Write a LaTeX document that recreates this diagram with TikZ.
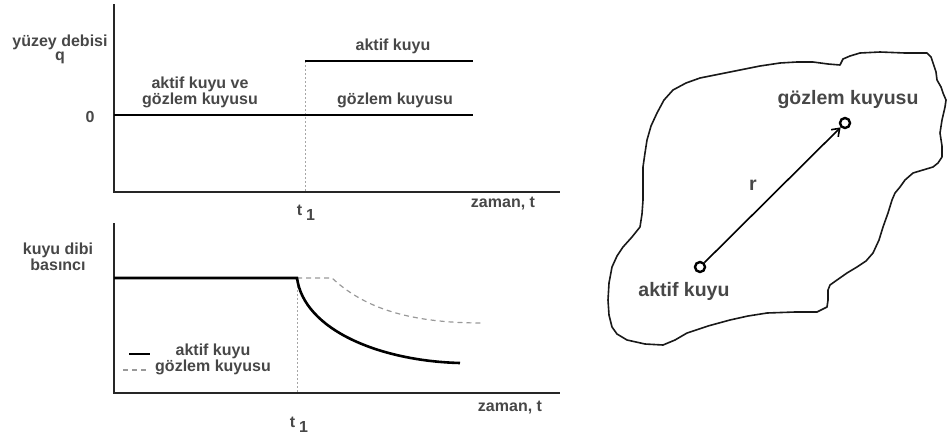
\documentclass[tikz,border=0pt]{standalone}
\usepackage{fontspec}
\setmainfont{Liberation Sans}
\usetikzlibrary{arrows.meta}
\tikzset{
  axis/.style={line width=2pt, black!85},
  solidcurve/.style={line width=2.6pt, black},
  dashcurve/.style={line width=1.2pt, black!40, dash pattern=on 5pt off 4pt},
  tdash/.style={line width=0.8pt, black!35, dash pattern=on 2pt off 2pt},
  lbl/.style={font=\fontsize{16}{17}\selectfont\bfseries, text=black!72, inner sep=0pt, align=center},
  biglbl/.style={font=\fontsize{19.5}{21}\selectfont\bfseries, text=black!72, inner sep=0pt},
  well/.style={circle, draw=black, line width=2.4pt, minimum size=10pt, inner sep=0pt},
  blob/.style={line width=1.6pt, black!90, line join=round}
}
\begin{document}
\begin{tikzpicture}[x=1pt,y=-1pt]
\useasboundingbox (0,0) rectangle (947,437);
% ---------- top plot ----------
\draw[axis] (114,4) -- (114,192) -- (560,192);
\draw[tdash] (305,61) -- (305,192);
\draw[solidcurve] (114,115) -- (473,115);
\draw[solidcurve] (305,61) -- (473,61);
\node[lbl] (ql) at (60,42) {yüzey debisi};
\node[lbl] (qq) at (60,58) {q};
\node[lbl] (z1) at (90,117) {0};
\node[lbl] (ak1) at (393,46) {aktif kuyu};
\node[lbl] (akg) at (200,92) {aktif kuyu ve\\[-1pt]gözlem kuyusu};
\node[lbl] (gk1) at (395,100) {gözlem kuyusu};
\node[lbl] (tt1) at (306,213) {t\kern4pt\raisebox{-5pt}{1}};
\node[lbl] (zt1) at (503,204) {zaman, t};
% ---------- bottom plot ----------
\draw[axis] (114,223) -- (114,393) -- (560,393);
\draw[tdash] (297,278) -- (297,393);
\draw[dashcurve] (297,278) -- (332,278) .. controls (362,306) and (405,323) .. (482,323);
\draw[solidcurve] (114,278) -- (297,278) .. controls (304,330) and (380,361) .. (460,363);
\draw[solidcurve] (129,354) -- (150,354);
\draw[dashcurve] (123,370) -- (147,370);
\node[lbl] (kd) at (58,257) {kuyu dibi\\[-1pt]basıncı};
\node[lbl] (la) at (213,351) {aktif kuyu};
\node[lbl] (lg) at (213,367) {gözlem kuyusu};
\node[lbl] (tt2) at (299,425) {t\kern4pt\raisebox{-5pt}{1}};
\node[lbl] (zt2) at (510,408) {zaman, t};
% ---------- reservoir ----------
\draw[blob] (840,65) -- (843,59) -- (850,56) -- (860,53) -- (880,52) -- (905,53) -- (927,53)
  -- (931,57) -- (933,63) -- (936,72) -- (937,80) -- (941,87) -- (943,93) -- (946,100) -- (945,107)
  -- (942,120) -- (940,133) -- (942,146) -- (942,157) -- (938,163) -- (933,167) -- (923,170) -- (913,173)
  -- (905,180) -- (900,187) -- (895,193) -- (892,200) -- (888,213) -- (883,227) -- (879,240) -- (873,253)
  -- (866,261) -- (857,267) -- (847,273) -- (837,280) -- (830,285) -- (828,290) -- (828,300) -- (827,307)
  -- (817,312) -- (795,312) -- (767,313) -- (748,316) -- (730,320) -- (708,326) -- (687,333)
  -- (675,340) -- (663,345) -- (645,344) -- (627,340) -- (617,334) -- (612,327) -- (609,315) -- (608,300)
  -- (609,283) -- (612,267) -- (617,256) -- (623,247) -- (632,237) -- (640,227) -- (642,214) -- (643,200)
  -- (643,183) -- (643,167) -- (645,153) -- (647,140) -- (651,126) -- (657,113) -- (664,100) -- (673,90)
  -- (686,83) -- (700,78) -- (720,74) -- (740,70) -- (760,66) -- (780,63) -- (797,62) -- (813,62)
  -- (828,64) -- cycle;
\node[well] (aw) at (700,267) {};
\node[well] (ow) at (845,123) {};
\draw[line width=1.6pt, -{Straight Barb[length=7pt,width=10pt]}] (aw) -- (ow);
\node[biglbl] (rl) at (753,185) {r};
\node[biglbl] (owl) at (848,99) {gözlem kuyusu};
\node[biglbl] (awl) at (684,291) {aktif kuyu};
\end{tikzpicture}
\end{document}
